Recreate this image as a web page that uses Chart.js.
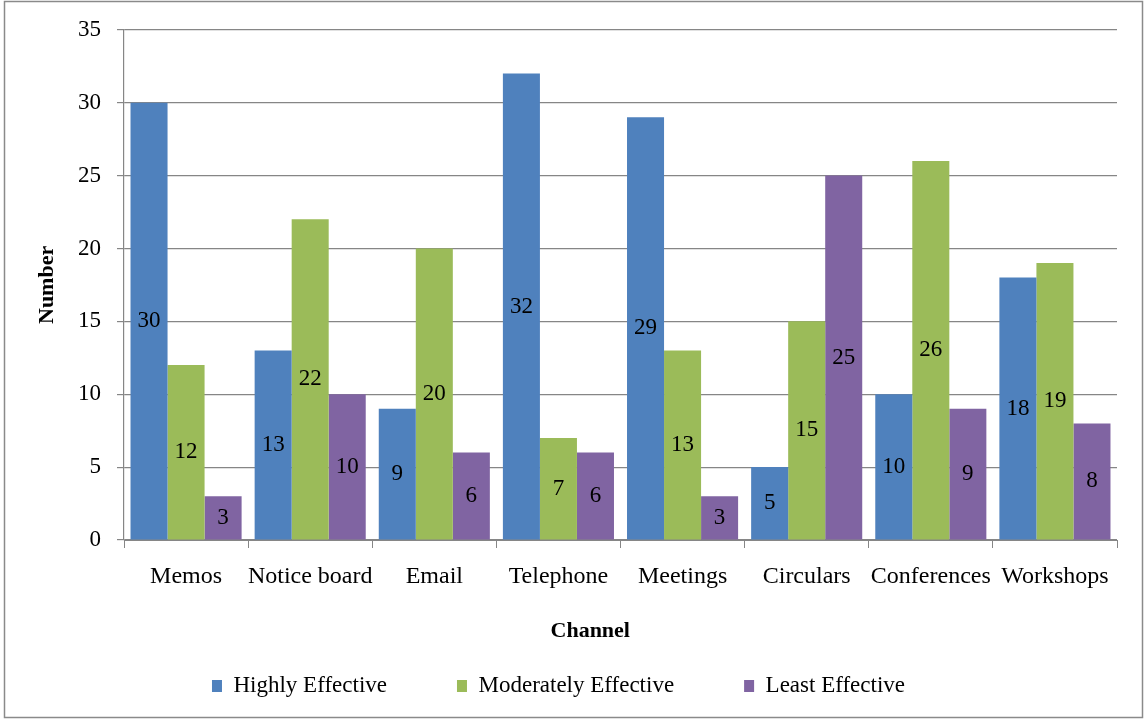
<!DOCTYPE html>
<html>
<head>
<meta charset="utf-8">
<script src="https://cdn.jsdelivr.net/npm/chart.js@4/dist/chart.umd.min.js"></script>
<style>
  html, body { margin: 0; padding: 0; background: #ffffff; }
  #wrap { width: 1144px; height: 719px; position: relative; }
</style>
</head>
<body>
<div id="wrap"><canvas id="chart" width="1144" height="719"></canvas></div>
<script>
// Communication channels and how respondents rated them
const channels = ['Memos', 'Notice board', 'Email', 'Telephone', 'Meetings', 'Circulars', 'Conferences', 'Workshops'];
const highlyEffective = [30, 13, 9, 32, 29, 5, 10, 18];
const moderatelyEffective = [12, 22, 20, 7, 13, 15, 26, 19];
const leastEffective = [3, 10, 6, 6, 3, 25, 9, 8];
const seriesNames = ['Highly Effective', 'Moderately Effective', 'Least Effective'];
const seriesColors = ['#4F81BD', '#9BBB59', '#8064A2'];

const SERIF = "'Liberation Serif', 'Times New Roman', serif";
const GRID = '#868686';

// Value labels centred inside each bar
const barValueLabels = {
  id: 'barValueLabels',
  afterDatasetsDraw(chart) {
    const ctx = chart.ctx;
    ctx.save();
    ctx.font = '23px ' + SERIF;
    ctx.fillStyle = '#000000';
    ctx.textAlign = 'center';
    ctx.textBaseline = 'middle';
    chart.data.datasets.forEach((ds, di) => {
      const meta = chart.getDatasetMeta(di);
      meta.data.forEach((bar, i) => {
        const v = ds.data[i];
        ctx.fillText(String(v), bar.x, (bar.y + bar.base) / 2);
      });
    });
    ctx.restore();
  }
};

// Outer frame of the chart
const chartFrame = {
  id: 'chartFrame',
  beforeDraw(chart) {
    const ctx = chart.ctx;
    ctx.save();
    ctx.fillStyle = '#ffffff';
    ctx.fillRect(0, 0, chart.width, chart.height);
    ctx.strokeStyle = '#8a8a8a';
    ctx.lineWidth = 1.5;
    ctx.strokeRect(4.5, 1.5, 1138, 716);
    ctx.restore();
  }
};

new Chart(document.getElementById('chart'), {
  type: 'bar',
  data: {
    labels: channels,
    datasets: [
      { label: seriesNames[0], data: highlyEffective, backgroundColor: seriesColors[0] },
      { label: seriesNames[1], data: moderatelyEffective, backgroundColor: seriesColors[1] },
      { label: seriesNames[2], data: leastEffective, backgroundColor: seriesColors[2] }
    ]
  },
  options: {
    responsive: false,
    animation: false,
    devicePixelRatio: 1,
    layout: { padding: { left: 0, right: 27, top: 27, bottom: 11.5 } },
    datasets: {
      bar: { categoryPercentage: 0.895, barPercentage: 1.0, borderWidth: 0 }
    },
    scales: {
      x: {
        grid: { drawOnChartArea: false, drawTicks: true, tickLength: 8, color: GRID, lineWidth: 1 },
        border: { display: true, color: GRID, width: 1 },
        ticks: {
          color: '#000000', font: { family: SERIF, size: 24 },
          padding: 14, autoSkip: false, maxRotation: 0, minRotation: 0
        },
        title: {
          display: true,
          // trailing spaces nudge the centred title slightly left of the plot centre
          text: 'Channel           ',
          color: '#000000',
          font: { family: SERIF, size: 22, weight: 'bold' },
          padding: { top: 0, bottom: -40.5 }
        },
        afterFit(scale) { scale.height = 64.5; }
      },
      y: {
        min: 0, max: 35,
        grid: { color: GRID, lineWidth: 1.2, drawTicks: true, tickLength: 7 },
        border: { display: true, color: GRID, width: 1.2 },
        ticks: {
          stepSize: 5, color: '#000000', font: { family: SERIF, size: 23 }, padding: 16
        },
        title: {
          display: true, text: 'Number', color: '#000000',
          font: { family: SERIF, size: 22, weight: 'bold' },
          padding: { top: 34, bottom: 0 }
        },
        afterFit(scale) { scale.width = 124; }
      }
    },
    plugins: {
      legend: {
        position: 'bottom',
        align: 'center',
        labels: {
          color: '#000000',
          font: { family: SERIF, size: 23 },
          boxWidth: 10, boxHeight: 12,
          padding: 70
        }
      },
      tooltip: { enabled: false }
    }
  },
  plugins: [chartFrame, barValueLabels]
});
</script>
</body>
</html>
